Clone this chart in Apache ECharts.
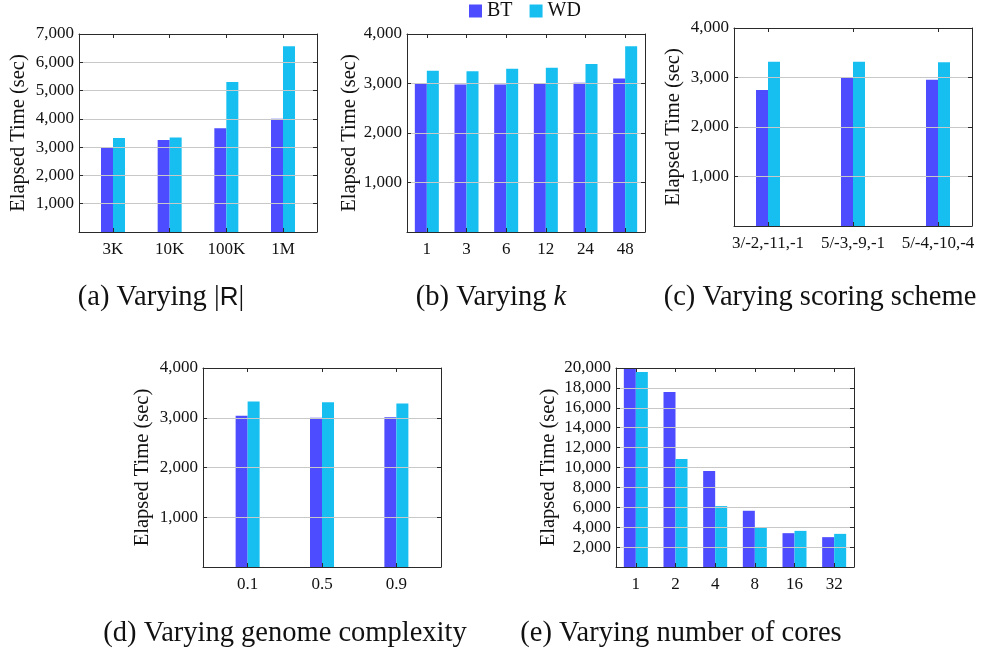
<!DOCTYPE html>
<html>
<head>
<meta charset="utf-8">
<script src="https://cdn.jsdelivr.net/npm/echarts@6/dist/echarts.min.js"></script>
<style>
html, body { margin: 0; padding: 0; background: #fff; }
#chart { width: 984px; height: 654px; }
</style>
</head>
<body>
<div id="chart"></div>
<script>
// values
const catsA = ['3K', '10K', '100K', '1M'];
const btA = [3000, 3250, 3670, 4000];
const wdA = [3320, 3340, 5300, 6570];

const catsB = ['1', '3', '6', '12', '24', '48'];
const btB = [3000, 2980, 2980, 3010, 3015, 3100];
const wdB = [3260, 3250, 3300, 3320, 3395, 3755];

const catsC = ['3/-2,-11,-1', '5/-3,-9,-1', '5/-4,-10,-4'];
const btC = [2750, 3010, 2955];
const wdC = [3320, 3320, 3310];

const catsD = ['0.1', '0.5', '0.9'];
const btD = [3040, 3000, 3010];
const wdD = [3325, 3310, 3285];

const catsE = ['1', '2', '4', '8', '16', '32'];
const btE = [20000, 17600, 9650, 5650, 3400, 3000];
const wdE = [19600, 10860, 6120, 3930, 3630, 3330];

const FONT = 'Liberation Serif';
const BT_COLOR = '#4d4dff';
const WD_COLOR = '#17bff0';
const FRAME = '#2a2a2a';

const grids = [], xAxes = [], yAxes = [], series = [];

function addPanel(box, cats, bt, wd, ymax, step, pad, nameGap) {
  const g = grids.length;
  const idx = cats.map((c, i) => i);
  grids.push({ left: box[0], top: box[1], width: box[2], height: box[3] });

  // bottom axis with the category labels
  xAxes.push({
    type: 'value', gridIndex: g, position: 'bottom', z: 5,
    min: -pad, max: cats.length - 1 + pad,
    splitLine: { show: false },
    axisLine: { show: true, onZero: false, lineStyle: { color: FRAME, width: 1 } },
    axisTick: { show: true, inside: true, length: 4, customValues: idx, lineStyle: { color: FRAME } },
    axisLabel: {
      customValues: idx, margin: 9,
      formatter: v => cats[Math.round(v)],
      fontFamily: FONT, fontSize: 17, color: '#111'
    }
  });
  // top edge of the frame
  xAxes.push({
    type: 'value', gridIndex: g, position: 'top', z: 5,
    min: -pad, max: cats.length - 1 + pad,
    splitLine: { show: false },
    axisLine: { show: true, onZero: false, lineStyle: { color: FRAME, width: 1 } },
    axisTick: { show: true, inside: true, length: 4, customValues: idx, lineStyle: { color: FRAME } },
    axisLabel: { show: false }
  });

  yAxes.push({
    type: 'value', gridIndex: g, position: 'left', z: 5,
    min: 0, max: ymax, interval: step,
    name: 'Elapsed Time (sec)', nameLocation: 'middle', nameGap: nameGap,
    nameTextStyle: { fontFamily: FONT, fontSize: 20.5, color: '#111' },
    axisLine: { show: true, onZero: false, lineStyle: { color: FRAME, width: 1 } },
    axisTick: { show: true, inside: true, length: 4, lineStyle: { color: FRAME } },
    axisLabel: {
      margin: 5, fontFamily: FONT, fontSize: 17, color: '#111',
      formatter: v => (v === 0 ? '' : v.toLocaleString('en-US'))
    },
    splitLine: { show: true, lineStyle: { color: '#c8c8c8', width: 1 } }
  });
  yAxes.push({
    type: 'value', gridIndex: g, position: 'right', z: 5,
    min: 0, max: ymax, interval: step,
    axisLine: { show: true, onZero: false, lineStyle: { color: FRAME, width: 1 } },
    axisTick: { show: true, inside: true, length: 4, lineStyle: { color: FRAME } },
    axisLabel: { show: false },
    splitLine: { show: false }
  });

  series.push({
    name: 'BT', type: 'bar', xAxisIndex: 2 * g, yAxisIndex: 2 * g,
    barWidth: 12, barGap: '0%',
    itemStyle: { color: BT_COLOR },
    data: bt.map((v, i) => [i, v])
  });
  series.push({
    name: 'WD', type: 'bar', xAxisIndex: 2 * g, yAxisIndex: 2 * g,
    barWidth: 12, barGap: '0%',
    itemStyle: { color: WD_COLOR },
    data: wd.map((v, i) => [i, v])
  });
}

addPanel([79, 34, 238, 198], catsA, btA, wdA, 7000, 1000, 0.6, 50);
addPanel([407, 34, 238, 198], catsB, btB, wdB, 4000, 1000, 0.5, 47);
addPanel([734, 28, 238, 198], catsC, btC, wdC, 4000, 1000, 0.4, 50);
addPanel([203, 368, 238, 199], catsD, btD, wdD, 4000, 1000, 0.6, 50);
addPanel([616, 368, 238, 199], catsE, btE, wdE, 20000, 2000, 0.5, 57);

function caption(text, x, y) {
  return {
    text: text, left: x, top: y, padding: 0,
    textAlign: 'center', textVerticalAlign: 'middle',
    textStyle: {
      fontFamily: FONT, fontSize: 28.5, fontWeight: 'normal', color: '#111',
      rich: {
        s: { fontFamily: 'Liberation Sans', fontSize: 26, color: '#111' },
        i: { fontFamily: FONT, fontStyle: 'italic', fontSize: 28.5, color: '#111' }
      }
    }
  };
}

let chart = echarts.init(document.getElementById('chart'), null, { renderer: 'canvas' });
chart.setOption({
  animation: false,
  backgroundColor: '#fff',
  title: [
    caption('(a) Varying |{s|R}|', 161, 298),
    caption('(b) Varying {i|k}', 491, 298),
    caption('(c) Varying scoring scheme', 820, 298),
    caption('(d) Varying genome complexity', 285, 634),
    caption('(e) Varying number of cores', 681, 634)
  ],
  legend: {
    data: ['BT', 'WD'],
    left: 469, top: 1, padding: 0,
    icon: 'rect', itemWidth: 13, itemHeight: 13, itemGap: 17,
    textStyle: { fontFamily: FONT, fontSize: 20, color: '#111' }
  },
  grid: grids,
  xAxis: xAxes,
  yAxis: yAxes,
  series: series
});
</script>
</body>
</html>
